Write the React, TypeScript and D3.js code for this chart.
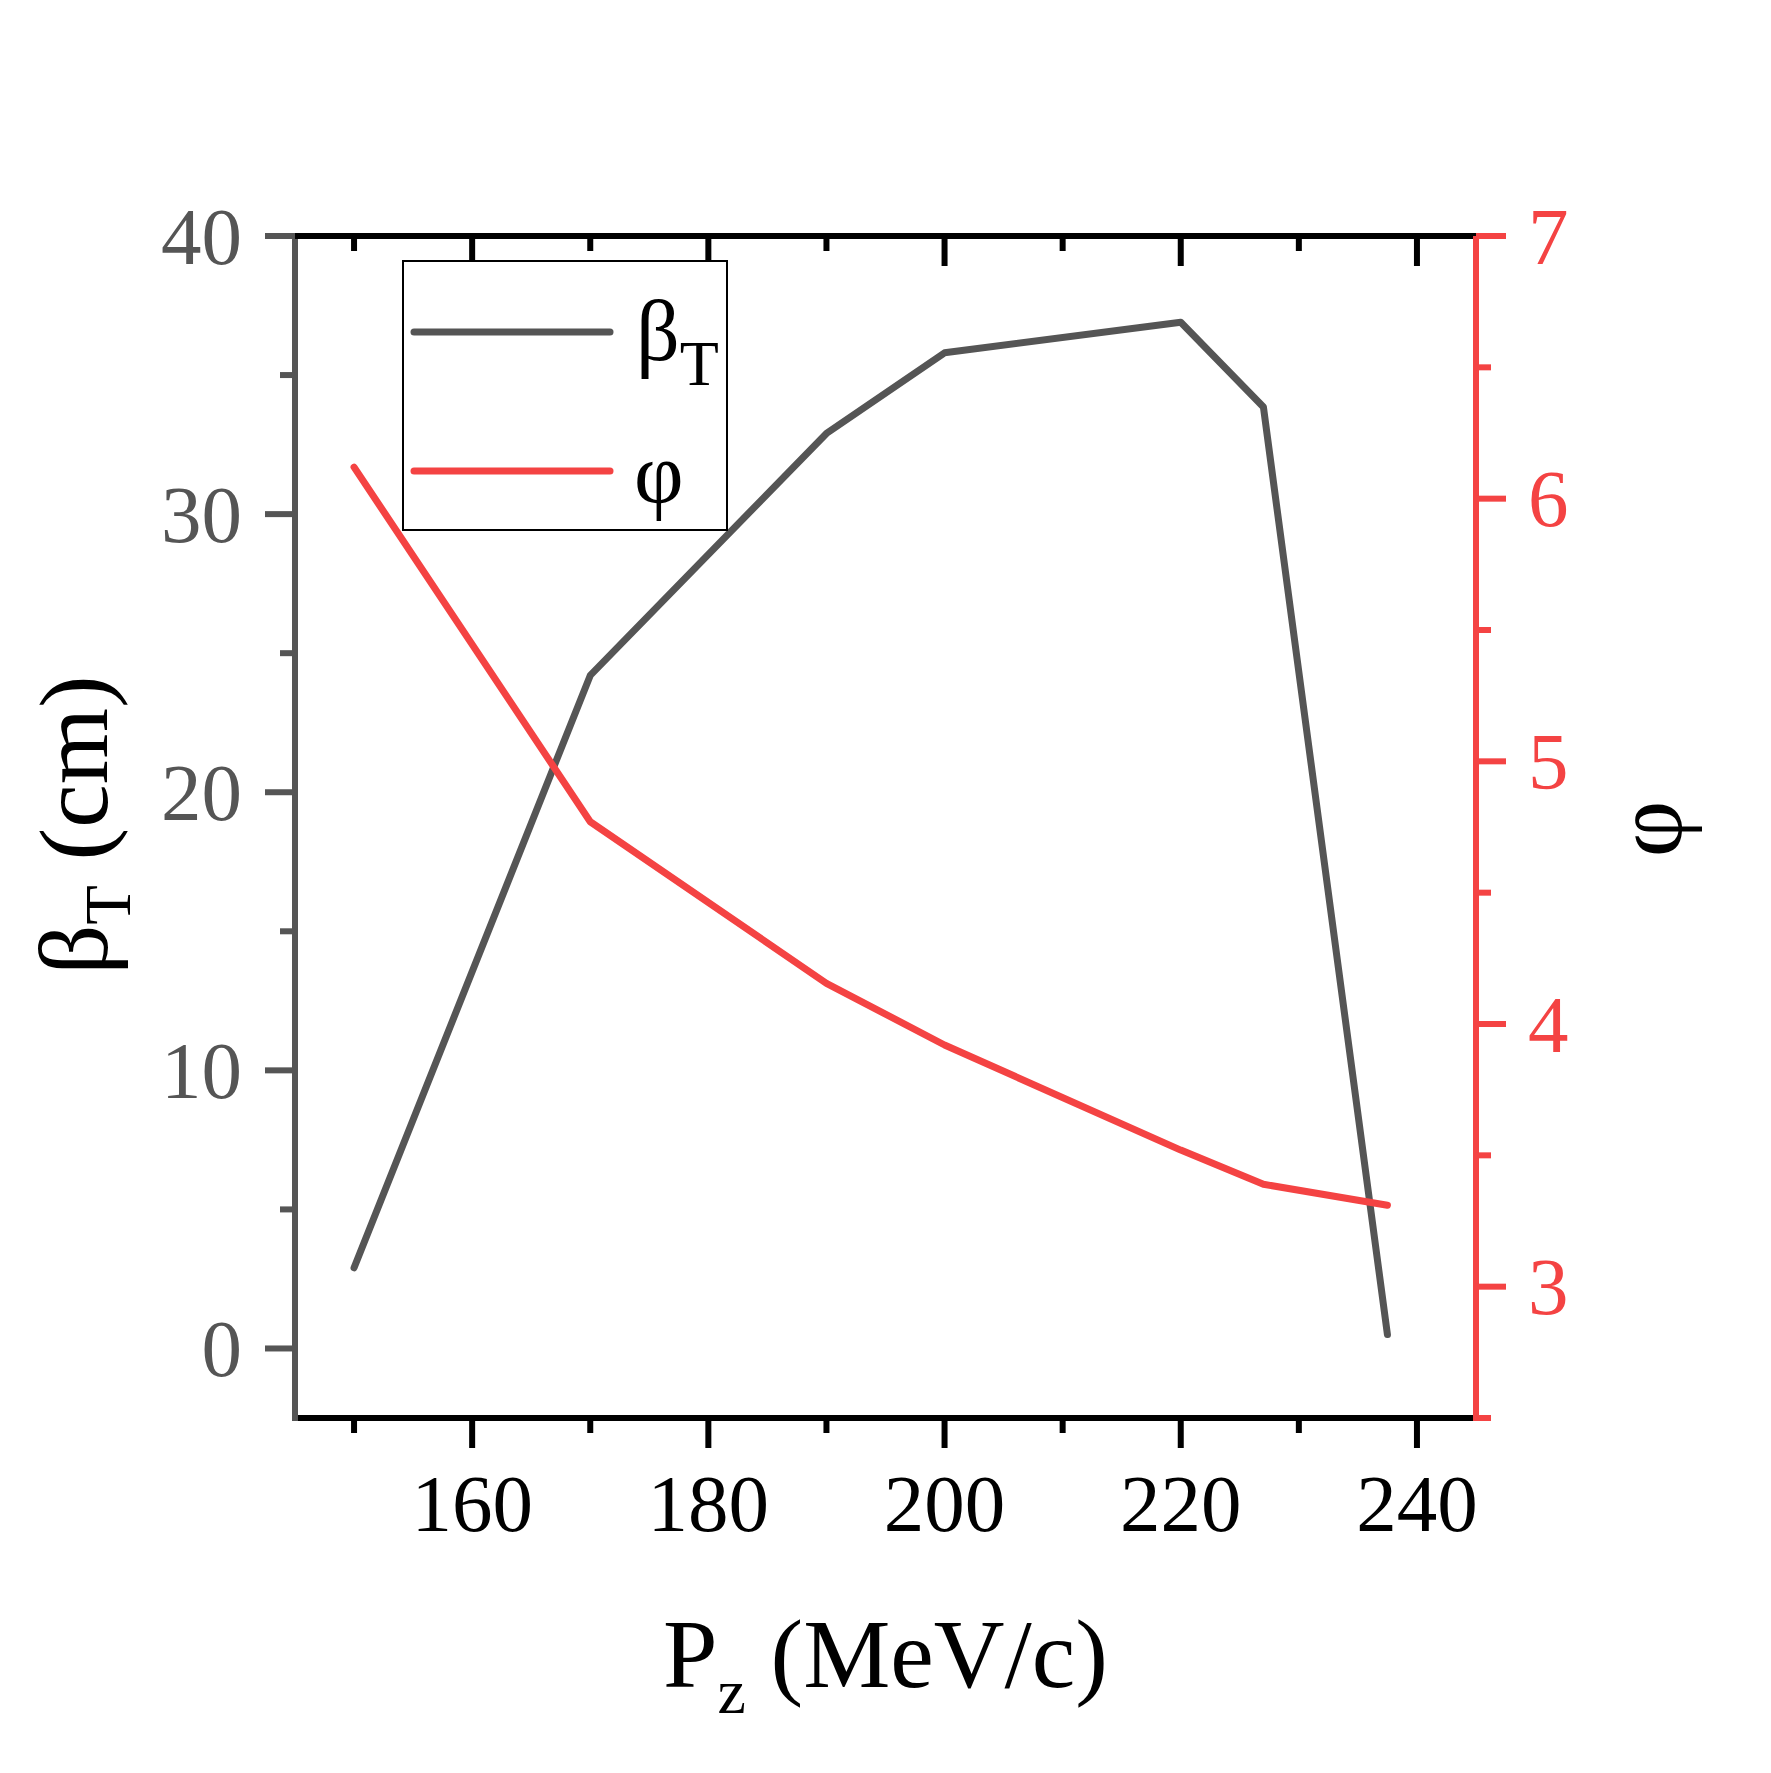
import React from "react";
import * as d3 from "d3";

const pz = [150, 170, 190, 200, 220, 227, 237.5];
const betaT = [2.9, 24.2, 32.9, 35.8, 36.9, 33.85, 0.5];
const phi = [6.12, 4.77, 4.155, 3.92, 3.52, 3.39, 3.31];

const xMajorTicks = [160, 180, 200, 220, 240];
const xMinorTicks = [150, 170, 190, 210, 230];
const yMajorTicks = [0, 10, 20, 30, 40];
const yMinorTicks = [5, 15, 25, 35];
const phiMajorTicks = [3, 4, 5, 6, 7];
const phiMinorTicks = [2.5, 3.5, 4.5, 5.5, 6.5];

const W = 1771;
const H = 1773;
const L = 295, R = 1476, T = 236, B = 1418;
const GRAY = "#555555";
const RED = "#f44343";
const FONT = "'Liberation Serif', 'Times New Roman', serif";

export default function App() {
  const x = d3.scaleLinear().domain([145, 245]).range([L, R]);
  const yL = d3.scaleLinear().domain([-2.5, 40]).range([B, T]);
  const yR = d3.scaleLinear().domain([2.5, 7]).range([B, T]);

  const lineB = d3.line<number>().x((_, i) => x(pz[i])).y((d) => yL(d));
  const lineP = d3.line<number>().x((_, i) => x(pz[i])).y((d) => yR(d));

  const sw = 6;
  const major = 30;
  const minor = 15;

  return (
    <svg width={W} height={H} style={{ position: "absolute", left: 0, top: 0, background: "#fff" }} fontFamily={FONT}>
      <rect x={0} y={0} width={W} height={H} fill="#fff" />

      {/* data lines */}
      <path d={lineB(betaT) || ""} fill="none" stroke={GRAY} strokeWidth={7} strokeLinejoin="round" strokeLinecap="round" />
      <path d={lineP(phi) || ""} fill="none" stroke={RED} strokeWidth={7} strokeLinejoin="round" strokeLinecap="round" />

      {/* bottom axis */}
      <line x1={L - 3} x2={R} y1={B} y2={B} stroke="#000" strokeWidth={sw} />
      {xMajorTicks.map((t) => (
        <line key={"bM" + t} x1={x(t)} x2={x(t)} y1={B} y2={B + major} stroke="#000" strokeWidth={sw} />
      ))}
      {xMinorTicks.map((t) => (
        <line key={"bm" + t} x1={x(t)} x2={x(t)} y1={B} y2={B + minor} stroke="#000" strokeWidth={sw} />
      ))}
      {xMajorTicks.map((t) => (
        <text key={"bl" + t} x={x(t)} y={1531} textAnchor="middle" fontSize={81} fill="#000">
          {t}
        </text>
      ))}

      {/* top axis */}
      <line x1={L - 3} x2={R} y1={T} y2={T} stroke="#000" strokeWidth={sw} />
      {xMajorTicks.map((t) => (
        <line key={"tM" + t} x1={x(t)} x2={x(t)} y1={T} y2={T + major} stroke="#000" strokeWidth={sw} />
      ))}
      {xMinorTicks.map((t) => (
        <line key={"tm" + t} x1={x(t)} x2={x(t)} y1={T} y2={T + minor} stroke="#000" strokeWidth={sw} />
      ))}

      {/* left axis */}
      <line x1={L} x2={L} y1={T + 3} y2={B + 3} stroke={GRAY} strokeWidth={sw} />
      {yMajorTicks.map((t) => (
        <line key={"lM" + t} x1={L - major} x2={L} y1={yL(t)} y2={yL(t)} stroke={GRAY} strokeWidth={sw} />
      ))}
      {yMinorTicks.map((t) => (
        <line key={"lm" + t} x1={L - minor} x2={L} y1={yL(t)} y2={yL(t)} stroke={GRAY} strokeWidth={sw} />
      ))}
      {yMajorTicks.map((t) => (
        <text key={"ll" + t} x={242} y={yL(t)} dy="0.34em" textAnchor="end" fontSize={81} fill={GRAY}>
          {t}
        </text>
      ))}

      {/* right axis */}
      <line x1={R} x2={R} y1={T} y2={B + 3} stroke={RED} strokeWidth={sw} />
      {phiMajorTicks.map((t) => (
        <line key={"rM" + t} x1={R} x2={R + major} y1={yR(t)} y2={yR(t)} stroke={RED} strokeWidth={sw} />
      ))}
      {phiMinorTicks.map((t) => (
        <line key={"rm" + t} x1={R} x2={R + minor} y1={yR(t)} y2={yR(t)} stroke={RED} strokeWidth={sw} />
      ))}
      {phiMajorTicks.map((t) => (
        <text key={"rl" + t} x={1528} y={yR(t)} dy="0.34em" textAnchor="start" fontSize={81} fill={RED}>
          {t}
        </text>
      ))}

      {/* axis titles */}
      <text x={(L + R) / 2} y={1687} textAnchor="middle" fontSize={98} fill="#000">
        P
        <tspan fontSize={64} dy={26}>z</tspan>
        <tspan dy={-26}> (MeV/c)</tspan>
      </text>
      <text transform="translate(107, 825) rotate(-90)" textAnchor="middle" fontSize={98} fill="#000">
        β
        <tspan fontSize={65} dy={23}>T</tspan>
        <tspan dy={-23}> (cm)</tspan>
      </text>
      <text transform="translate(1681, 829) rotate(-90)" textAnchor="middle" fontSize={98} fill="#000">
        φ
      </text>

      {/* legend */}
      <rect x={403} y={261} width={324} height={269} fill="#fff" stroke="#000" strokeWidth={2} />
      <line x1={414} x2={610} y1={332} y2={332} stroke={GRAY} strokeWidth={7} strokeLinecap="round" />
      <line x1={414} x2={610} y1={471} y2={471} stroke={RED} strokeWidth={7} strokeLinecap="round" />
      <text x={636} y={360} fontSize={86} fill="#000">
        β
        <tspan fontSize={64} dy={25}>T</tspan>
      </text>
      <text x={634} y={502} fontSize={86} fill="#000">
        φ
      </text>
    </svg>
  );
}
